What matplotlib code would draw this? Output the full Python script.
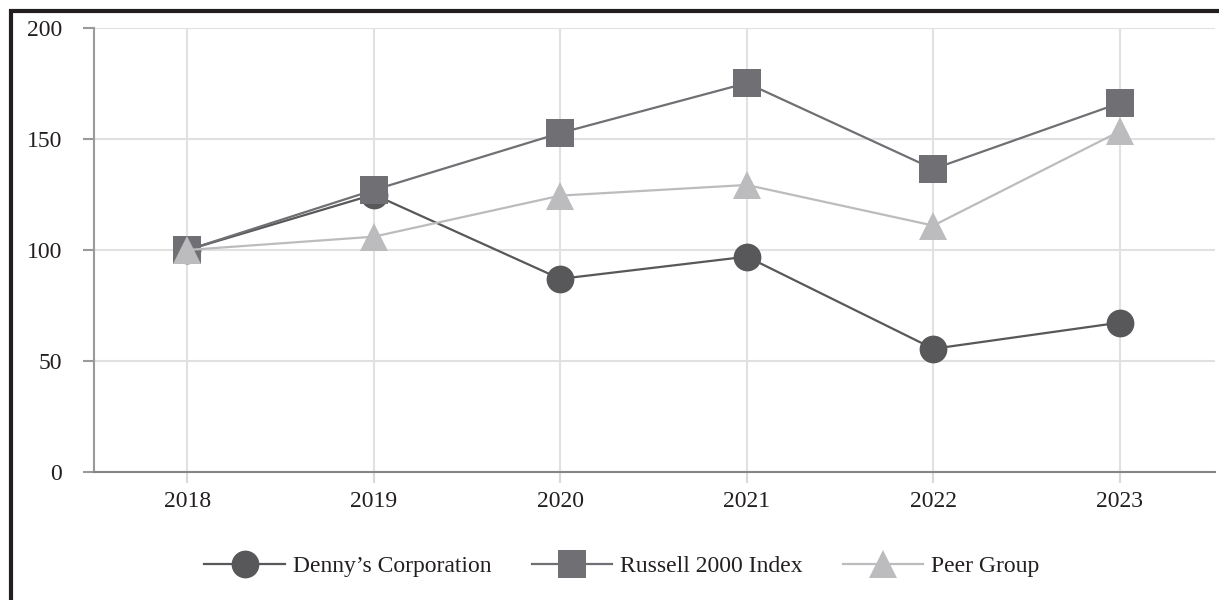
import matplotlib
matplotlib.use("Agg")
import matplotlib.pyplot as plt
from matplotlib.lines import Line2D

years = [2018, 2019, 2020, 2021, 2022, 2023]
dennys = [100, 125, 87, 97, 55.5, 67.3]
russell = [100, 127, 152.7, 175.2, 136.5, 166.2]
peer = [100, 106, 124.5, 129.3, 111, 153.5]
series_names = ["Denny\u2019s Corporation", "Russell 2000 Index", "Peer Group"]
yticks = [0, 50, 100, 150, 200]

plt.rcParams['font.family'] = ['Liberation Serif', 'DejaVu Serif']

W, H = 1219, 600
fig = plt.figure(figsize=(W / 100, H / 100), dpi=100)
ax = fig.add_axes([94 / W, 1 - 472 / H, (1215 - 94) / W, (472 - 28) / H])

styles = [
    dict(color="#58585a", marker="o"),
    dict(color="#707074", marker="s"),
    dict(color="#bcbcbe", marker="^"),
]
handles = []
for vals, st, name in zip([dennys, russell, peer], styles, series_names):
    h, = ax.plot(years, vals, color=st["color"], marker=st["marker"], markersize=20,
                 markeredgewidth=0, linewidth=1.6, label=name, zorder=3, clip_on=False)
    handles.append(h)

ax.set_xlim(2017.5, 2023.51)
ax.set_ylim(0, 200)
ax.set_xticks(years)
ax.set_xticklabels([str(y) for y in years])
ax.set_yticks(yticks)
ax.grid(True, color="#e1e1e1", linewidth=1.5, zorder=0)
ax.set_axisbelow(True)
for s in ["top", "right"]:
    ax.spines[s].set_visible(False)
ax.spines["left"].set_color("#9a9a9c")
ax.spines["left"].set_linewidth(1.5)
ax.spines["bottom"].set_color("#858587")
ax.spines["bottom"].set_linewidth(1.5)
ax.tick_params(axis="y", length=8, width=1.5, color="#9a9a9c", pad=15, labelsize=17, labelcolor="#231f20")
ax.tick_params(axis="x", length=8, width=1.5, color="#d8d8d8", pad=6, labelsize=17, labelcolor="#231f20")

fig.legend(handles=handles, loc="center", bbox_to_anchor=(622 / W, 1 - 566 / H), ncol=3,
           frameon=False, fontsize=17, handlelength=3.4, handletextpad=0.35,
           columnspacing=1.7, labelcolor="#231f20")

# figure border (left and top)
fig.add_artist(Line2D([11 / W, 11 / W], [0, 1 - 9 / H], transform=fig.transFigure,
                      color="#231f20", linewidth=3, solid_capstyle="butt"))
fig.add_artist(Line2D([9 / W, 1], [1 - 11 / H, 1 - 11 / H], transform=fig.transFigure,
                      color="#231f20", linewidth=3, solid_capstyle="butt"))

fig.savefig("out.png", dpi=100)
